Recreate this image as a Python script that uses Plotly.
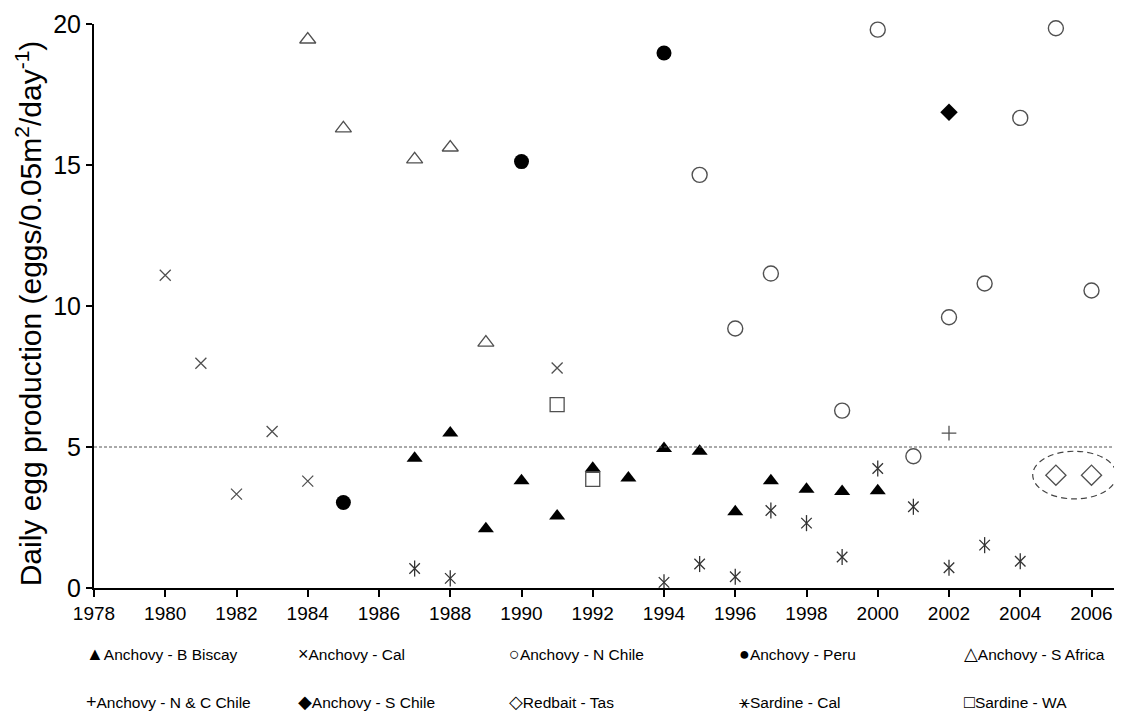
import plotly.graph_objects as go

# ---------------- data ----------------
bbiscay_years = [1987, 1988, 1989, 1990, 1991, 1992, 1993, 1994, 1995, 1996, 1997, 1998, 1999, 2000]
bbiscay_vals = [4.6, 5.5, 2.1, 3.8, 2.55, 4.25, 3.9, 4.95, 4.85, 2.7, 3.8, 3.5, 3.42, 3.45]

cal_years = [1980, 1981, 1982, 1983, 1984, 1991]
cal_vals = [11.09, 7.97, 3.33, 5.55, 3.79, 7.8]

nchile_years = [1995, 1996, 1997, 1999, 2000, 2001, 2002, 2003, 2004, 2005, 2006]
nchile_vals = [14.65, 9.2, 11.15, 6.29, 19.8, 4.67, 9.6, 10.8, 16.67, 19.85, 10.55]

peru_years = [1985, 1990, 1994]
peru_vals = [3.03, 15.12, 18.97]

safrica_years = [1984, 1985, 1987, 1988, 1989]
safrica_vals = [19.45, 16.3, 15.2, 15.62, 8.7]

ncchile_years = [2002]
ncchile_vals = [5.49]

schile_years = [2002]
schile_vals = [16.87]

redbait_years = [2005, 2006]
redbait_vals = [4.0, 4.0]

sardcal_years = [1987, 1988, 1994, 1995, 1996, 1997, 1998, 1999, 2000, 2001, 2002, 2003, 2004]
sardcal_vals = [0.69, 0.34, 0.2, 0.85, 0.4, 2.75, 2.3, 1.1, 4.24, 2.88, 0.72, 1.52, 0.95]

sardwa_years = [1991, 1992]
sardwa_vals = [6.5, 3.85]

reference_level = 5
ellipse_x = [2004.35, 2006.7]
ellipse_y = [3.16, 4.85]

x_ticks = list(range(1978, 2007, 2))
y_ticks = [0, 5, 10, 15, 20]

legend_symbols = [
    ["\u25B2", "\u00D7", "\u25CB", "\u25CF", "\u25B3"],
    ["+", "\u25C6", "\u25C7", "\u26B9", "\u25A1"],
]
legend_names = [
    ["Anchovy - B Biscay", "Anchovy - Cal", "Anchovy - N Chile", "Anchovy - Peru", "Anchovy - S Africa"],
    ["Anchovy - N & C Chile", "Anchovy - S Chile", "Redbait - Tas", "Sardine - Cal", "Sardine - WA"],
]

# ---------------- figure ----------------
fig = go.Figure()

def add(xs, ys, symbol, size, color, lw=1.3, name=""):
    fig.add_trace(go.Scatter(
        x=xs, y=ys, mode="markers", name=name, showlegend=False,
        marker=dict(symbol=symbol, size=size, color=color,
                    line=dict(color=color, width=lw)),
        cliponaxis=False,
    ))

GRAY = "#505050"
add(bbiscay_years, bbiscay_vals, "triangle-up", 14, "black", 0, "Anchovy - B Biscay")
add(cal_years, cal_vals, "x-thin-open", 11, GRAY, 1.3, "Anchovy - Cal")
add(nchile_years, nchile_vals, "circle-open", 15, GRAY, 1.4, "Anchovy - N Chile")
add(peru_years, peru_vals, "circle", 15, "black", 0, "Anchovy - Peru")
add(safrica_years, safrica_vals, "triangle-up-open", 14, GRAY, 1.3, "Anchovy - S Africa")
add(ncchile_years, ncchile_vals, "cross-thin-open", 10.5, GRAY, 1.3, "Anchovy - N & C Chile")
add(schile_years, schile_vals, "diamond", 13.5, "black", 0, "Anchovy - S Chile")
add(redbait_years, redbait_vals, "diamond-open", 15.5, GRAY, 1.3, "Redbait - Tas")
add(sardcal_years, sardcal_vals, "x-thin-open", 10.5, "#333333", 1.3, "Sardine - Cal")
add(sardcal_years, sardcal_vals, "line-ns-open", 11.5, "#333333", 1.3, "Sardine - Cal")
add(sardwa_years, sardwa_vals, "square-open", 14, GRAY, 1.3, "Sardine - WA")

# reference line at 5
fig.add_shape(type="line", xref="paper", x0=0, x1=1, yref="y",
              y0=reference_level, y1=reference_level,
              line=dict(color="#555555", width=1, dash="3px,2px"))
# ellipse around redbait
fig.add_shape(type="circle", xref="x", yref="y",
              x0=ellipse_x[0], x1=ellipse_x[1], y0=ellipse_y[0], y1=ellipse_y[1],
              line=dict(color="#444444", width=1.2, dash="6px,4px"))

# page geometry (browser body has an 8px margin)
plot_l, plot_w, plot_t, plot_h = 94, 1026, 18.6, 569.4

# y-axis title
fig.add_annotation(
    text="Daily egg production (eggs/0.05m<sup>2</sup>/day<sup>-1</sup>)",
    xref="paper", yref="paper", x=(29 - plot_l) / plot_w, y=0.487,
    xanchor="center", yanchor="middle",
    textangle=-90, showarrow=False,
    font=dict(family="Liberation Sans, Arial, sans-serif", size=30, color="black"))

# legend as text
col_x = [84, 296, 507, 737, 962]
row_y = [655, 703]
for r in range(2):
    for c in range(5):
        lab = ("<span style='font-size:18px'>" + legend_symbols[r][c] + "</span>"
               + legend_names[r][c])
        fig.add_annotation(
            text=lab, xref="paper", yref="paper",
            x=(col_x[c] - plot_l) / plot_w,
            y=1 - (row_y[r] - plot_t) / plot_h,
            xanchor="left", yanchor="middle", showarrow=False,
            font=dict(family="Liberation Sans, Arial, DejaVu Sans, sans-serif", size=15.5, color="black"))

fig.update_layout(
    width=1114, height=712,
    margin=dict(l=86, r=2, t=10.6, b=132, pad=0),
    paper_bgcolor="white", plot_bgcolor="white",
    showlegend=False,
    font=dict(family="Liberation Sans, Arial, sans-serif", color="black"),
    xaxis=dict(range=[1978, 2006.8], tickvals=x_ticks, showgrid=False, zeroline=False,
               showline=True, linecolor="black", linewidth=2,
               ticks="outside", ticklen=7, tickwidth=2, tickcolor="black",
               tickfont=dict(size=19), ticklabeloverflow="allow"),
    yaxis=dict(range=[0, 20], tickvals=y_ticks, showgrid=False, zeroline=False,
               showline=True, linecolor="black", linewidth=2,
               ticks="outside", ticklen=6, tickwidth=2, tickcolor="black",
               tickfont=dict(size=25), ticklabeloverflow="allow"),
)

fig.write_html("out.html")
